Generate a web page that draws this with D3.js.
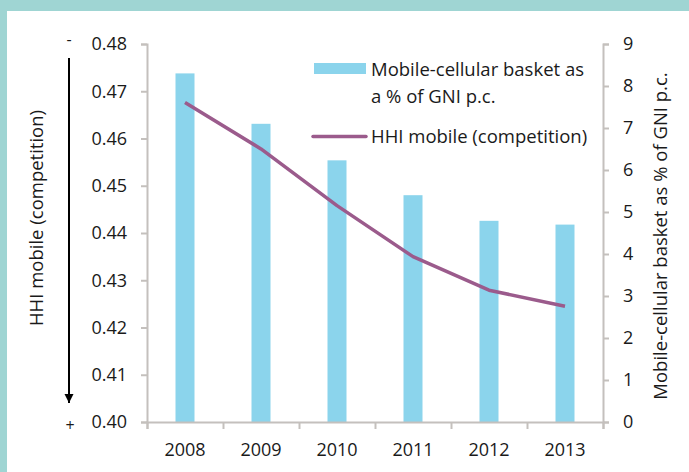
<!DOCTYPE html>
<html>
<head>
<meta charset="utf-8">
<script src="https://cdn.jsdelivr.net/npm/d3@7"></script>
<style>
  body { margin: 0; background: #fff; }
  svg text { font-family: 'Open Sans', sans-serif; fill: #1a1a1a; }
</style>
</head>
<body>
<div id="chart-container"></div>
<script>
var years = ['2008', '2009', '2010', '2011', '2012', '2013'];
var basket = [8.30, 7.10, 6.23, 5.40, 4.79, 4.70];
var hhi = [0.4676, 0.4578, 0.4458, 0.4350, 0.4279, 0.4245];
var leftTicks = [0.40, 0.41, 0.42, 0.43, 0.44, 0.45, 0.46, 0.47, 0.48];
var rightTicks = [0, 1, 2, 3, 4, 5, 6, 7, 8, 9];

var svgWidth = 689,
    svgHeight = 472,
    margin = { top: 44, right: 86, bottom: 50, left: 147 },
    width = svgWidth - margin.left - margin.right,
    height = svgHeight - margin.top - margin.bottom;

var svg = d3.select('#chart-container').append('svg')
    .attr('width', svgWidth).attr('height', svgHeight);

// teal frame
svg.append('rect').attr('x', 0).attr('y', 0).attr('width', svgWidth).attr('height', 11).attr('fill', '#9fd5d3');
svg.append('rect').attr('x', 0).attr('y', 0).attr('width', 7).attr('height', svgHeight).attr('fill', '#9fd5d3');

var g = svg.append('g').attr('transform', 'translate(' + margin.left + ',' + margin.top + ')');

var x = d3.scaleBand().domain(years).range([0, width]).paddingInner(0.75).paddingOuter(0.375);
var xi = d3.scaleLinear().domain([0, years.length]).range([0, width]);
var yL = d3.scaleLinear().domain([0.40, 0.48]).range([height, 0]);
var yR = d3.scaleLinear().domain([0, 9]).range([height, 0]);

var axisColor = '#c4c0bd';
var fs = 18;

// bars
g.selectAll('.bar').data(years).enter().append('rect')
    .attr('class', 'bar')
    .attr('x', function(d) { return x(d); })
    .attr('width', x.bandwidth())
    .attr('y', function(d, i) { return yR(basket[i]); })
    .attr('height', function(d, i) { return height - yR(basket[i]); })
    .attr('fill', '#8bd4ec');

// line
var line = d3.line()
    .x(function(d, i) { return x(years[i]) + x.bandwidth() / 2; })
    .y(function(d) { return yL(d); });

g.append('path')
    .datum(hhi)
    .attr('fill', 'none')
    .attr('stroke', '#9b5b8c')
    .attr('stroke-width', 3.5)
    .attr('stroke-linejoin', 'round')
    .attr('d', line);

// left axis
g.append('g').attr('class', 'axis')
    .call(d3.axisLeft(yL).tickValues(leftTicks).tickSize(6).tickPadding(14).tickFormat(d3.format('.2f')));

// right axis
g.append('g').attr('class', 'axis')
    .attr('transform', 'translate(' + width + ',0)')
    .call(d3.axisRight(yR).tickValues(rightTicks).tickSize(6).tickPadding(14).tickFormat(d3.format('d')));

// x axis: boundary ticks + labels
g.append('g').attr('class', 'axis')
    .attr('transform', 'translate(0,' + height + ')')
    .call(d3.axisBottom(xi).ticks(6).tickSize(7).tickFormat(''));

g.append('g').attr('class', 'axis axis-labels')
    .attr('transform', 'translate(0,' + height + ')')
    .call(d3.axisBottom(x).tickSize(0).tickPadding(21));

g.selectAll('.axis path, .axis line').attr('stroke', axisColor).attr('stroke-width', 2);
g.selectAll('.axis-labels path').remove();
g.selectAll('.axis text').attr('font-size', fs).attr('font-family', "'Open Sans', sans-serif").attr('fill', '#1a1a1a');

// axis titles
svg.append('text')
    .attr('transform', 'translate(43,' + 218 + ') rotate(-90)')
    .style('text-anchor', 'middle')
    .attr('font-size', 18.5)
    .text('HHI mobile (competition)');

svg.append('text')
    .attr('transform', 'translate(667,' + 236 + ') rotate(-90)')
    .style('text-anchor', 'middle')
    .attr('font-size', 18.5)
    .text('Mobile-cellular basket as % of GNI p.c.');

// competition arrow
svg.append('defs').append('marker')
    .attr('id', 'arrowhead')
    .attr('viewBox', '0 0 10 10')
    .attr('refX', 10).attr('refY', 5)
    .attr('markerWidth', 9).attr('markerHeight', 20)
    .attr('markerUnits', 'userSpaceOnUse')
    .attr('orient', 'auto')
    .append('path').attr('d', 'M0,0 L10,5 L0,10 Z').attr('fill', '#000');

svg.append('line')
    .attr('x1', 69).attr('y1', 58).attr('x2', 69).attr('y2', 403)
    .attr('stroke', '#000').attr('stroke-width', 2)
    .attr('marker-end', 'url(#arrowhead)');

svg.append('text').attr('x', 69).attr('y', 45).style('text-anchor', 'middle').attr('font-size', 16).text('-');
svg.append('text').attr('x', 70).attr('y', 431).style('text-anchor', 'middle').attr('font-size', 16).text('+');

// legend
var legend = svg.append('g');
legend.append('rect').attr('x', 314).attr('y', 63).attr('width', 52).attr('height', 11).attr('fill', '#8bd4ec');
legend.append('text').attr('x', 371).attr('y', 76).attr('font-size', 18.5).text('Mobile-cellular basket as');
legend.append('text').attr('x', 371).attr('y', 103).attr('font-size', 18.5).text('a % of GNI p.c.');
legend.append('line').attr('x1', 313).attr('x2', 366).attr('y1', 136.5).attr('y2', 136.5)
    .attr('stroke', '#9b5b8c').attr('stroke-width', 3.5).attr('stroke-linecap', 'round');
legend.append('text').attr('x', 371).attr('y', 143).attr('font-size', 18.5).text('HHI mobile (competition)');
</script>
</body>
</html>
